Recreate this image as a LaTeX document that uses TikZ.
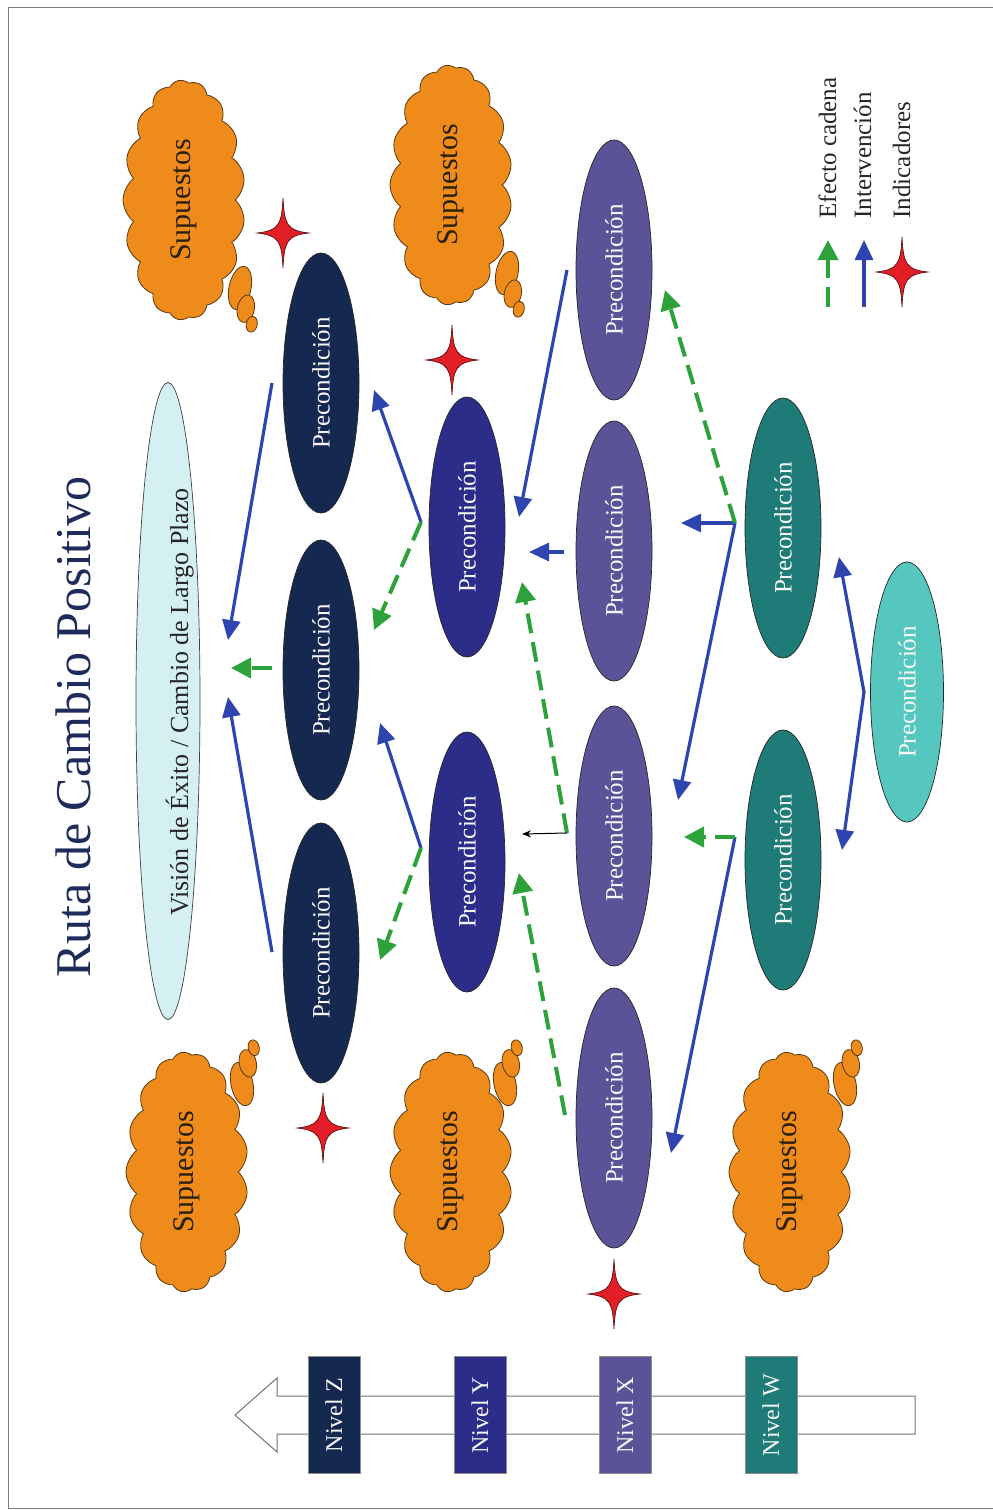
\documentclass[tikz,border=0pt]{standalone}
\usepackage{fontspec}
\setmainfont{Liberation Serif}
\usetikzlibrary{arrows.meta,shapes.geometric,shapes.symbols}

\definecolor{colZ}{HTML}{142850}
\definecolor{colY}{HTML}{2B2D89}
\definecolor{colX}{HTML}{5A5398}
\definecolor{colW}{HTML}{1E7B77}
\definecolor{colLT}{HTML}{56C7BF}
\definecolor{colVis}{HTML}{D4F0F3}
\definecolor{cloudfill}{HTML}{EE8B1B}
\definecolor{cloudline}{HTML}{5A3A10}
\definecolor{cloudtext}{HTML}{2A2010}
\definecolor{titlecol}{HTML}{1E2B5B}
\definecolor{arrowblue}{HTML}{2E45B0}
\definecolor{chaingreen}{HTML}{2DA23A}
\definecolor{starred}{HTML}{E21E26}
\definecolor{stardark}{HTML}{4A0A0A}
\definecolor{framegray}{HTML}{7A7A7A}

\tikzset{
  prec/.style={ellipse, rotate=90, minimum width=260pt, minimum height=76pt,
    inner sep=0pt, draw=black!85, line width=0.7pt, text={black!3},
    font=\fontsize{25}{30}\selectfont},
  precZ/.style={prec, fill=colZ},
  precY/.style={prec, fill=colY},
  precX/.style={prec, fill=colX},
  precW/.style={prec, fill=colW},
  precLT/.style={prec, fill=colLT, minimum height=73pt},
  cloudbox/.style={cloud, cloud puffs=17, cloud puff arc=105, cloud ignores aspect,
    rotate=90, minimum width=240pt, minimum height=122pt, inner sep=0pt,
    fill=cloudfill, draw=cloudline, line width=0.8pt, text=cloudtext,
    font=\fontsize{30}{36}\selectfont},
  bubble/.style={fill=cloudfill, draw=cloudline, line width=0.8pt},
  levelbox/.style={rectangle, rotate=90, minimum width=117pt, minimum height=52pt,
    inner sep=0pt, draw=black!45, line width=0.6pt, text={black!3},
    font=\fontsize{24}{28}\selectfont},
  interv/.style={draw=arrowblue, line width=3.2pt,
    -{Triangle[length=20pt,width=18pt]}},
  chain/.style={draw=chaingreen, line width=4pt, dash pattern=on 20pt off 9pt,
    -{Triangle[length=20pt,width=20pt]}},
  thinarrow/.style={draw=black, line width=1pt, -{Stealth[length=9pt,width=7pt]}},
  legendtext/.style={anchor=base west, rotate=90, text=black!85,
    font=\fontsize{25}{30}\selectfont},
  indstar/.pic={
    \fill[starred, draw=stardark, line width=0.6pt]
      (0,-35) .. controls (1.5,-8) and (4,-2.5) .. (26,0)
      .. controls (4,2.5) and (1.5,8) .. (0,35)
      .. controls (-1.5,8) and (-4,2.5) .. (-26,0)
      .. controls (-4,-2.5) and (-1.5,-8) .. cycle;
  },
  thought/.pic={
    \draw[bubble, rotate=-12] (0,0) ellipse (11 and 22);
    \draw[bubble, rotate=-12] (10,19) ellipse (8.5 and 14);
    \draw[bubble, rotate=-12] (19,33) ellipse (5.5 and 8);
  }
}

\begin{document}
\begin{tikzpicture}[x=1pt, y=-1pt]
\useasboundingbox (0,0) rectangle (993,1510);
\draw[framegray, line width=1pt] (8,7) rectangle (1010,1508);

% title and long-term vision
\node[anchor=base, rotate=90, text=titlecol, font=\fontsize{50}{60}\selectfont]
  (title) at (90,727) {Ruta de Cambio Positivo};
\node[ellipse, rotate=90, minimum width=637pt, minimum height=64pt, inner sep=0pt,
  fill=colVis, draw=black!75, line width=0.7pt] (vis) at (168,701) {};
\node[anchor=base, rotate=90, text=black!85, font=\fontsize{26}{30}\selectfont]
  (vistext) at (188,702) {Visión de Éxito / Cambio de Largo Plazo};

% assumption clouds
\node[cloudbox] (c1) at (184,200) {Supuestos};
\node[cloudbox] (c2) at (451,185) {Supuestos};
\node[cloudbox] (c3) at (187,1172) {Supuestos};
\node[cloudbox] (c4) at (451,1172) {Supuestos};
\node[cloudbox] (c5) at (790,1172) {Supuestos};
\pic at (240,288) {thought};
\pic at (507,273) {thought};
\pic[yscale=-1] at (242,1084) {thought};
\pic[yscale=-1] at (505,1084) {thought};
\pic[yscale=-1] at (845,1084) {thought};

% precondition columns
\node[precZ] (z1) at (321,383) {Precondición};
\node[precZ] (z2) at (321,670) {Precondición};
\node[precZ] (z3) at (321,953) {Precondición};
\node[precY] (y1) at (467,527) {Precondición};
\node[precY] (y2) at (467,862) {Precondición};
\node[precX] (x1) at (614,270) {Precondición};
\node[precX] (x2) at (614,551) {Precondición};
\node[precX] (x3) at (614,836) {Precondición};
\node[precX] (x4) at (614,1118) {Precondición};
\node[precW] (w1) at (783,528) {Precondición};
\node[precW] (w2) at (783,860) {Precondición};
\node[precLT] (lt) at (907,692) {Precondición};

% indicators
\pic at (283,233) {indstar};
\pic at (452,360) {indstar};
\pic at (323,1128) {indstar};
\pic at (614,1294) {indstar};

% connector end points
\coordinate (z1o) at (272,383);
\coordinate (z2o) at (272,668);
\coordinate (z3o) at (272,952);
\coordinate (visA) at (228,640);
\coordinate (visB) at (228,697);
\coordinate (visC) at (231,668);
\coordinate (y1o) at (421,522);
\coordinate (y2o) at (421,848);
\coordinate (z1i) at (374,390);
\coordinate (z2iA) at (374,630);
\coordinate (z2iB) at (380,723);
\coordinate (z3i) at (380,960);
\coordinate (x1o) at (567,270);
\coordinate (x2o) at (564,552);
\coordinate (x3o) at (567,833);
\coordinate (x4o) at (565,1115);
\coordinate (y1iA) at (519,517);
\coordinate (y1iB) at (529,552);
\coordinate (y1iC) at (522,582);
\coordinate (y2iA) at (522,834);
\coordinate (y2iB) at (519,873);
\coordinate (w1o) at (735,523);
\coordinate (w2o) at (735,837);
\coordinate (x1i) at (665,290);
\coordinate (x2i) at (681,523);
\coordinate (x3iA) at (678,800);
\coordinate (x3iB) at (684,837);
\coordinate (x4i) at (671,1153);
\coordinate (lto) at (864,692);
\coordinate (w1i) at (839,557);
\coordinate (w2i) at (842,850);

% interventions
\draw[interv] (z1o) -- (visA);
\draw[interv] (z3o) -- (visB);
\draw[interv] (y1o) -- (z1i);
\draw[interv] (y2o) -- (z2iB);
\draw[interv] (x1o) -- (y1iA);
\draw[interv] (x2o) -- (y1iB);
\draw[interv] (w1o) -- (x2i);
\draw[interv] (w1o) -- (x3iA);
\draw[interv] (w2o) -- (x4i);
\draw[interv] (lto) -- (w1i);
\draw[interv] (lto) -- (w2i);

% chain effects
\draw[chain] (z2o) -- (visC);
\draw[chain] (y1o) -- (z2iA);
\draw[chain] (y2o) -- (z3i);
\draw[chain] (x3o) -- (y1iC);
\draw[chain] (x4o) -- (y2iB);
\draw[chain] (w1o) -- (x1i);
\draw[chain] (w2o) -- (x3iB);
\draw[thinarrow] (x3o) -- (y2iA);

% legend
\coordinate (lg1a) at (828,307);
\coordinate (lg1b) at (828,240);
\coordinate (lg2a) at (864,307);
\coordinate (lg2b) at (864,240);
\draw[chain] (lg1a) -- (lg1b);
\draw[interv] (lg2a) -- (lg2b);
\pic at (902,272) {indstar};
\node[legendtext] (lgA) at (836,222) {Efecto cadena};
\node[legendtext] (lgB) at (871,222) {Intervención};
\node[legendtext] (lgC) at (910,222) {Indicadores};

% level bar
\draw[draw=black!55, line width=1pt, fill=white]
  (915,1396) -- (277,1396) -- (277,1378) -- (235,1415) -- (277,1452)
  -- (277,1434) -- (915,1434) -- cycle;
\node[levelbox, fill=colZ] (nz) at (334,1415) {Nivel Z};
\node[levelbox, fill=colY] (ny) at (480,1415) {Nivel Y};
\node[levelbox, fill=colX] (nx) at (625,1415) {Nivel X};
\node[levelbox, fill=colW] (nw) at (771,1415) {Nivel W};
\end{tikzpicture}
\end{document}
